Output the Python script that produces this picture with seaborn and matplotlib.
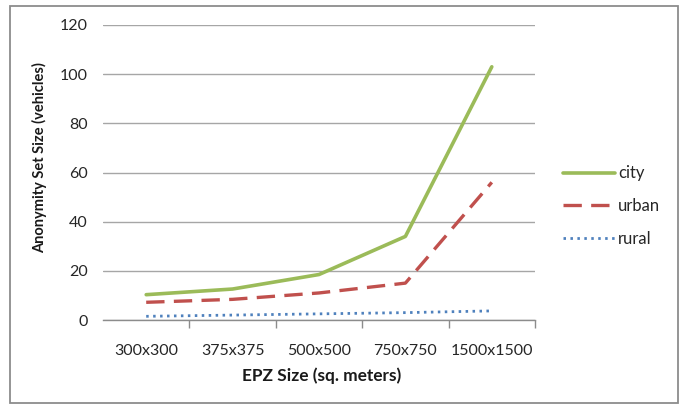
import matplotlib
matplotlib.use("Agg")
import matplotlib.pyplot as plt
from matplotlib.patches import Rectangle
import seaborn as sns
import pandas as pd

# EPZ sizes and anonymity set sizes for each road environment
epz_sizes = ["300x300", "375x375", "500x500", "750x750", "1500x1500"]
city = [10.3, 12.6, 18.5, 34.0, 103.0]
urban = [7.2, 8.4, 11.0, 15.0, 56.0]
rural = [1.5, 2.0, 2.5, 3.0, 3.7]

sns.set_theme(style="white")
plt.rcParams["font.family"] = ["Lato", "DejaVu Sans"]

fig = plt.figure(figsize=(6.86, 4.09), dpi=100)
fig.patch.set_facecolor("white")
fig.patches.append(Rectangle((10 / 686, 6 / 409), 668 / 686, 397 / 409,
                             transform=fig.transFigure, fill=False,
                             edgecolor="#8c8c8c", linewidth=1.3))

ax = fig.add_axes([103 / 686, 1 - 320 / 409, 432 / 686, 295 / 409])

positions = list(range(len(epz_sizes)))
series = [
    ("city", city, "#9BBB59", "-", 2.6, "round"),
    ("urban", urban, "#C0504D", (0, (5.5, 2.8)), 2.4, "butt"),
    ("rural", rural, "#4F81BD", (0, (0.9, 1.6)), 2.0, "butt"),
]
for name, vals, color, ls, lw, cap in series:
    df = pd.DataFrame({"epz": positions, "size": vals})
    sns.lineplot(data=df, x="epz", y="size", ax=ax, color=color,
                 linewidth=lw, label=name)
    ax.lines[-1].set_linestyle(ls)
    ax.lines[-1].set_solid_capstyle("round")
    ax.lines[-1].set_dash_capstyle(cap)

ax.set_xlim(-0.5, len(epz_sizes) - 0.5)
ax.set_ylim(0, 120)
ax.set_yticks(range(0, 121, 20))
ax.yaxis.grid(True, color="#a6a6a6", linewidth=1.0)
ax.set_axisbelow(True)
for side in ["top", "right", "left"]:
    ax.spines[side].set_visible(False)
ax.spines["bottom"].set_color("#8c8c8c")
ax.spines["bottom"].set_linewidth(1.0)

ax.set_xticks(positions)
ax.set_xticklabels(epz_sizes)
ax.set_xticks([p + 0.5 for p in positions], minor=True)
ax.tick_params(axis="x", which="major", length=0, pad=17,
               labelsize=11.5, labelcolor="#262626")
ax.tick_params(axis="x", which="minor", length=6, width=1.0,
               color="#8c8c8c", direction="out", bottom=True)
ax.tick_params(axis="y", length=0, pad=11, labelsize=11.5,
               labelcolor="#262626")

ax.set_xlabel("EPZ Size (sq. meters)", fontsize=12.4, fontweight="bold",
              color="#1a1a1a")
ax.set_ylabel("Anonymity Set Size (vehicles)", fontsize=10.5,
              fontweight="bold", color="#1a1a1a")
ax.xaxis.set_label_coords(0.507, -0.16)
ax.yaxis.set_label_coords(-0.13, 0.55)

leg = ax.legend(loc="center left", bbox_to_anchor=(1.03, 0.386),
                frameon=False, fontsize=12, handlelength=3.1,
                handletextpad=0.2, labelspacing=1.0)
for text in leg.get_texts():
    text.set_color("#262626")

fig.savefig("out.png", dpi=100, facecolor="white")
